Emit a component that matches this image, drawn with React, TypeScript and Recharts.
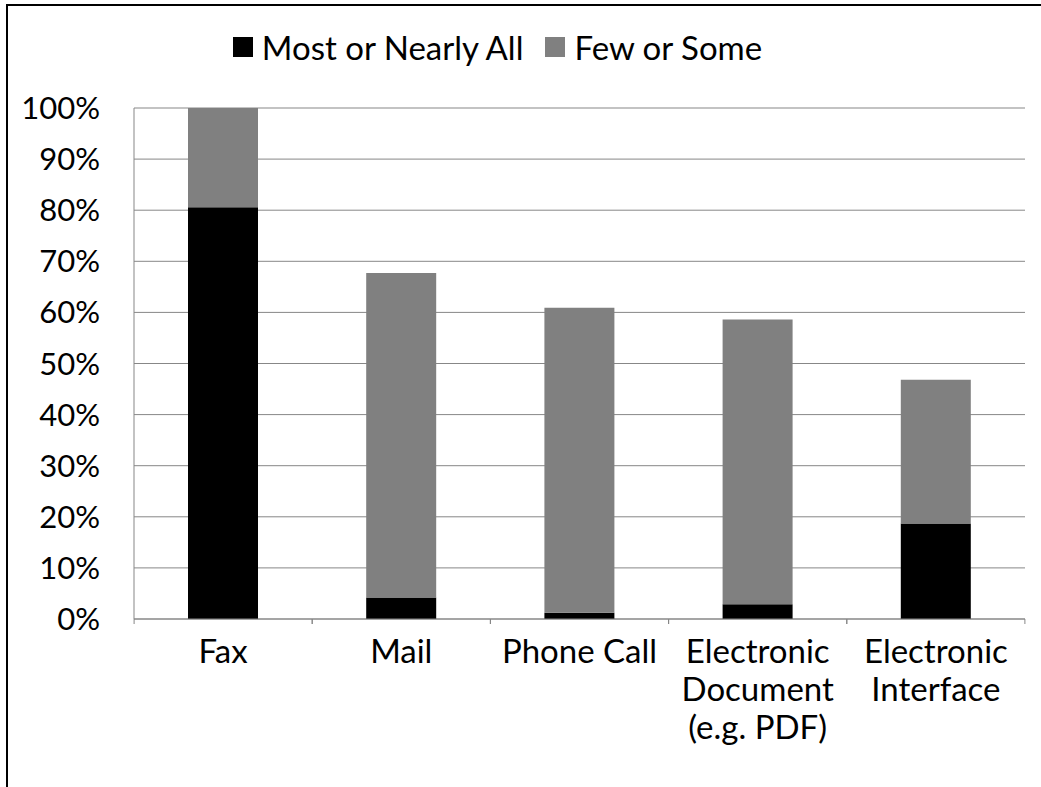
import { Bar, BarChart, CartesianGrid, Legend, XAxis, YAxis } from "recharts";

const categories = ["Fax", "Mail", "Phone Call", "Electronic\nDocument\n(e.g. PDF)", "Electronic\nInterface"];
const mostOrNearlyAll = [80.6, 4.2, 1.2, 2.9, 18.7];
const fewOrSome = [19.4, 63.5, 59.7, 55.7, 28.1];
const yTicks = [0, 10, 20, 30, 40, 50, 60, 70, 80, 90, 100];

const series = [
  { key: "most", name: "Most or Nearly All", color: "#000000" },
  { key: "few", name: "Few or Some", color: "#808080" },
];

const data = categories.map((name, i) => ({
  name,
  most: mostOrNearlyAll[i],
  few: fewOrSome[i],
}));

const FONT = "Lato, 'Open Sans', sans-serif";
const BAND_HALF = 89;

function CategoryTick(props: any) {
  const { x, y, payload } = props;
  const lines = String(payload.value).split("\n");
  return (
    <g>
      <line x1={x - BAND_HALF} x2={x - BAND_HALF} y1={y} y2={y + 5} stroke="#878787" />
      <line x1={x + BAND_HALF} x2={x + BAND_HALF} y1={y} y2={y + 5} stroke="#878787" />
      <text x={x} y={y + 44} textAnchor="middle" fill="#000" fontSize={33} fontFamily={FONT}>
        {lines.map((l, i) => (
          <tspan key={i} x={x} dy={i === 0 ? 0 : 38}>
            {l}
          </tspan>
        ))}
      </text>
    </g>
  );
}

function LegendContent() {
  return (
    <div style={{ display: "flex", justifyContent: "center", gap: 22, fontFamily: FONT, fontSize: 33, color: "#000", paddingRight: 30, height: 40, alignItems: "center" }}>
      {series.map((s) => (
        <div key={s.key} style={{ display: "flex", alignItems: "center" }}>
          <span style={{ display: "inline-block", width: 20, height: 20, background: s.color, marginRight: 9 }} />
          <span>{s.name}</span>
        </div>
      ))}
    </div>
  );
}

export default function App() {
  return (
    <div style={{ position: "absolute", left: 0, top: 0, width: 1041, height: 787, background: "#fff", overflow: "hidden" }}>
      <div style={{ position: "absolute", left: 6, top: 4, width: 1100, height: 900, border: "2px solid #000", boxSizing: "border-box" }} />
      <BarChart
        width={1041}
        height={787}
        data={data}
        margin={{ top: 68, right: 16, bottom: 0, left: 0 }}
        barSize={70}
      >
        <CartesianGrid vertical={false} stroke="#878787" />
        <XAxis
          dataKey="name"
          interval={0}
          height={168}
          tickSize={0}
          tickMargin={0}
          stroke="#878787"
          tick={<CategoryTick />}
        />
        <YAxis
          domain={[0, 100]}
          ticks={yTicks}
          width={134}
          tickSize={0}
          tickMargin={34}
          stroke="#878787"
          tick={{ fill: "#000", fontSize: 31, fontFamily: FONT }}
          tickFormatter={(v) => `${v}%`}
        />
        <Legend verticalAlign="top" content={<LegendContent />} wrapperStyle={{ top: 27, height: 40 }} />
        {series.map((s) => (
          <Bar key={s.key} dataKey={s.key} name={s.name} stackId="a" fill={s.color} isAnimationActive={false} />
        ))}
      </BarChart>
    </div>
  );
}
